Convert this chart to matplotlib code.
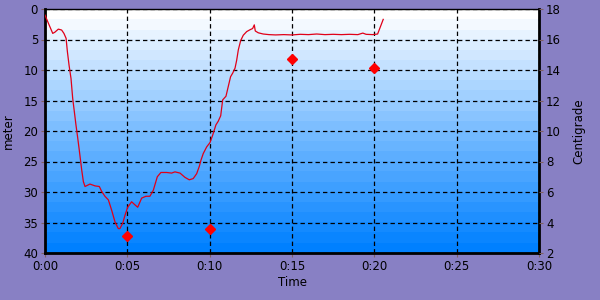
import matplotlib
matplotlib.use("Agg")
import matplotlib.pyplot as plt
import numpy as np
from matplotlib.colors import LinearSegmentedColormap
from matplotlib.ticker import FixedLocator

# Depth profile (time in minutes, depth in meters)
time_min = [0.0, 0.2, 0.47, 0.6, 0.81, 1.01, 1.15, 1.28, 1.36, 1.46, 1.58, 1.68, 1.78,
            1.88, 1.98, 2.08, 2.23, 2.33, 2.43, 2.73, 3.04, 3.3, 3.44, 3.64, 3.85, 4.05,
            4.25, 4.45, 4.55, 4.72, 4.86, 5.02, 5.26, 5.46, 5.63, 5.87, 6.13, 6.37, 6.58,
            6.82, 7.04, 7.39, 7.69, 7.89, 8.2, 8.5, 8.76, 9.0, 9.21, 9.37, 9.47, 9.61,
            9.82, 10.02, 10.18, 10.38, 10.52, 10.67, 10.79, 10.99, 11.13, 11.27, 11.4,
            11.54, 11.64, 11.74, 11.88, 12.04, 12.25, 12.45, 12.61, 12.71, 12.77, 12.95,
            13.25, 13.6, 14.0, 14.5, 15.0, 15.5, 16.0, 16.5, 17.0, 17.5, 18.0, 18.5,
            19.0, 19.3, 19.5, 19.9, 20.2, 20.54]
depth_m = [1.0, 2.3, 4.0, 3.8, 3.3, 3.45, 4.0, 4.8, 7.0, 9.2, 11.4, 14.6, 16.8,
           19.0, 21.0, 23.1, 26.4, 28.3, 29.1, 28.7, 29.0, 29.1, 29.9, 30.7, 31.3, 33.0,
           34.9, 36.0, 36.0, 35.1, 33.8, 32.5, 31.6, 32.1, 32.5, 31.0, 30.7, 30.7, 29.7,
           27.5, 26.8, 26.8, 26.9, 26.7, 26.9, 27.6, 28.0, 27.8, 27.0, 25.8, 24.8, 23.7,
           22.6, 21.9, 20.7, 19.0, 18.4, 17.5, 14.9, 14.3, 12.7, 11.1, 10.5,
           9.7, 8.4, 6.7, 5.2, 4.3, 3.7, 3.4, 3.2, 2.6, 3.6, 3.9,
           4.1, 4.2, 4.25, 4.2, 4.25, 4.15, 4.2, 4.1, 4.2, 4.15, 4.2, 4.15,
           4.2, 3.95, 4.15, 4.2, 4.1, 1.7]

# Temperature samples
temp_time = [5, 10, 15, 20]
temp_c = [3.13, 3.55, 14.7, 14.15]

x_ticks = [0, 5, 10, 15, 20, 25, 30]
x_labels = ["0:00", "0:05", "0:10", "0:15", "0:20", "0:25", "0:30"]
depth_ticks = [0, 5, 10, 15, 20, 25, 30, 35, 40]
temp_ticks = [2, 4, 6, 8, 10, 12, 14, 16, 18]

bg = "#8880C4"
fig = plt.figure(figsize=(6, 3), dpi=100, facecolor=bg)
ax = fig.add_axes([45/600, 47/300, 494/600, 244/300])

# stepped gradient background
cmap = LinearSegmentedColormap.from_list("g", ["#FFFFFF", "#78BCFF", "#0080FF"], N=24)
grad = np.linspace(0, 1, 256).reshape(-1, 1)
ax.imshow(grad, aspect="auto", cmap=cmap, extent=[0, 30, 40, 0], zorder=0,
          interpolation="nearest")

ax.set_xlim(0, 30)
ax.set_ylim(40, 0)
ax.plot(time_min, depth_m, color="#E00018", lw=0.9, zorder=3)

ax.xaxis.set_major_locator(FixedLocator(x_ticks))
ax.set_xticklabels(x_labels)
ax.set_yticks(depth_ticks)
ax.grid(True, color="black", linestyle=(0, (3.5, 2.5)), lw=0.9, zorder=2)

fs = 8.5
ax.tick_params(axis="both", labelsize=fs, length=3, width=0.8, color="#806060", pad=2)
ax.set_ylabel("meter", fontsize=fs, labelpad=6)
ax.set_xlabel("Time", fontsize=fs, labelpad=2)

for s in ["left", "bottom"]:
    ax.spines[s].set_linewidth(2)
ax.spines["right"].set_linewidth(2)
ax.spines["top"].set_linewidth(1)

ax2 = ax.twinx()
ax2.set_ylim(2, 18)
ax2.set_yticks(temp_ticks)
ax2.plot(temp_time, temp_c, linestyle="none", marker="D", color="#FF0000",
         markersize=5.5, zorder=4, clip_on=False)
ax2.tick_params(axis="y", labelsize=fs, length=3, width=0.8, color="#806060", pad=2)
ax2.set_ylabel("Centigrade", fontsize=fs, labelpad=8)
for s in ax2.spines.values():
    s.set_visible(False)

fig.savefig("out.png", dpi=100, facecolor=bg)
